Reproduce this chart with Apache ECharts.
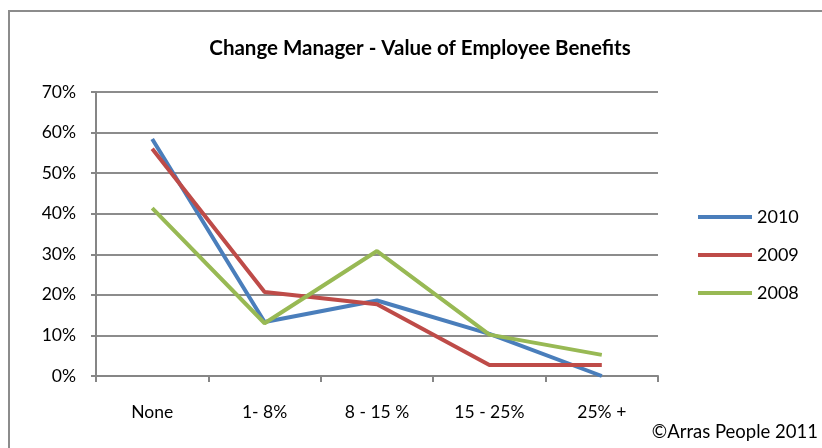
<!DOCTYPE html>
<html><head><meta charset="utf-8">
<script src="https://cdn.jsdelivr.net/npm/echarts@6/dist/echarts.min.js"></script>
<style>html,body{margin:0;padding:0;background:#fff}#c{width:822px;height:448px}</style>
</head><body><div id="c"></div>
<script>
const categories = ['None', '1- 8%', '8 - 15 %', '15 - 25%', '25% +'];
const s2010 = [58.4, 13.3, 18.6, 10.4, 0];
const s2009 = [56.0, 20.7, 17.7, 2.7, 2.7];
const s2008 = [41.4, 13.0, 30.8, 10.2, 5.2];
const seriesNames = ['2010', '2009', '2008'];
const colors = ['#4A7EBB', '#BE4B48', '#98B954'];
const yTicks = [0, 10, 20, 30, 40, 50, 60, 70];

const font = 'Lato, "Noto Sans", sans-serif';
const chart = echarts.init(document.getElementById('c'));
const data = [s2010, s2009, s2008];
chart.setOption({
  animation: false,
  graphic: [
    {type: 'rect', shape: {x: 9, y: 11, width: 830, height: 460}, style: {fill: 'none', stroke: '#8c8c8c', lineWidth: 2}},
    {type: 'text', right: 4, top: 423, style: {text: '©Arras People 2011', font: '18.5px ' + font, fill: '#000'}}
  ],
  title: {text: 'Change Manager - Value of Employee Benefits', left: 415, textAlign: 'center', top: 33,
    textStyle: {fontFamily: font, fontWeight: 'bold', fontSize: 20.5, color: '#000'}},
  legend: {orient: 'vertical', left: 693, top: 203, itemGap: 20, itemWidth: 54, itemHeight: 4,
    icon: 'rect', textStyle: {fontFamily: font, fontSize: 18, color: '#000', padding: [0,0,0,0]},
    data: seriesNames},
  grid: {left: 96, right: 164, top: 92, bottom: 72},
  xAxis: {type: 'category', data: categories, boundaryGap: true,
    axisLine: {lineStyle: {color: '#868686', width: 2}},
    axisTick: {show: true, length: 6, lineStyle: {color: '#868686', width: 2}},
    axisLabel: {margin: 27, fontFamily: font, fontSize: 17.5, color: '#000'}},
  yAxis: {type: 'value', min: yTicks[0], max: yTicks[yTicks.length-1], interval: 10,
    axisLine: {show: true, lineStyle: {color: '#868686', width: 2}},
    axisTick: {show: true, length: 5, lineStyle: {color: '#868686', width: 2}},
    splitLine: {lineStyle: {color: '#8c8c8c', width: 2}},
    axisLabel: {formatter: '{value}%', margin: 20, fontFamily: font, fontSize: 17.5, color: '#000'}},
  series: seriesNames.map((n, i) => ({
    name: n, type: 'line', data: data[i], symbol: 'none',
    lineStyle: {color: colors[i], width: 4}, itemStyle: {color: colors[i]}
  }))
});
</script></body></html>
